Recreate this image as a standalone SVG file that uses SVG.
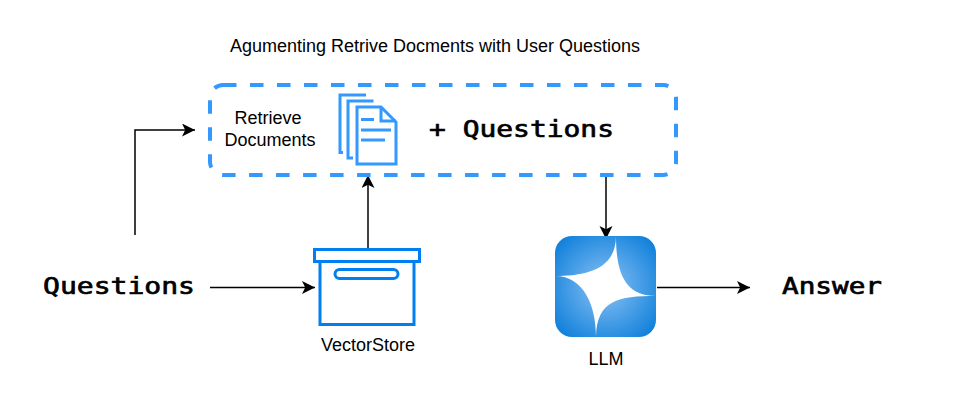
<svg xmlns="http://www.w3.org/2000/svg" width="961" height="411" viewBox="0 0 961 411">
<style>
.s{font-family:"Liberation Sans",Arial,sans-serif;font-size:18px;fill:#000}
.m{font-family:"DejaVu Sans Mono",monospace;font-size:23.500px;fill:#000;stroke:#000;stroke-width:.7}
.c{fill:none;stroke:#000;stroke-width:1.5}
.d{fill:none;stroke:#3399ff;stroke-width:3}
.b{fill:none;stroke:#0080f0;stroke-width:3}
</style>
<defs>
<marker id="a" markerUnits="userSpaceOnUse" markerWidth="14" markerHeight="14" refX="13" refY="6.5" orient="auto"><path d="M0 0L13 6.5L0 13L3.2 6.5Z" fill="#000"/></marker>
<radialGradient id="g" cx="50%" cy="50%" r="72%"><stop offset="0" stop-color="#8cc2f5"/><stop offset="1" stop-color="#0078d7"/></radialGradient>
</defs>
<rect width="961" height="411" fill="#fff"/>
<g id="connectors">
<path class="c" d="M135 235V130H195" marker-end="url(#a)"/>
<path class="c" d="M210 287.500H315" marker-end="url(#a)"/>
<path class="c" d="M368 249V175" marker-end="url(#a)"/>
<path class="c" d="M606 175V239" marker-end="url(#a)"/>
<path class="c" d="M657 287.500H750" marker-end="url(#a)"/>
</g>
<g id="title"><text class="s" x="435" y="52" text-anchor="middle">Agumenting Retrive Docments with User Questions</text></g>
<g id="augmented">
<rect x="210" y="85" width="466" height="90" rx="13" fill="none" stroke="#3399ff" stroke-width="4" stroke-dasharray="13.500 13.500"/>
<text class="s" x="268" y="124" text-anchor="middle">Retrieve</text>
<text class="s" x="270" y="146" text-anchor="middle">Documents</text>
<g id="doc-icon">
<path class="d" d="M366 95H340V152.500H343"/>
<path class="d" d="M373.500 101H348V158H353"/>
<path class="d" d="M357 107H381L396 122V164H357Z"/>
<path class="d" d="M381 107V121H396"/>
<path class="d" d="M361 119.500H374M361 130H391M361 140H385"/>
</g>
<text class="m" x="429" y="137" xml:space="preserve" textLength="185" lengthAdjust="spacingAndGlyphs">+ Questions</text>
</g>
<g id="questions"><text class="m" x="43" y="294" textLength="152" lengthAdjust="spacingAndGlyphs">Questions</text></g>
<g id="vectorstore">
<rect class="b" x="314.500" y="249.500" width="105" height="12"/>
<rect class="b" x="320" y="261.500" width="94" height="63"/>
<rect class="b" x="335" y="269.500" width="63" height="9" rx="4.500"/>
<text class="s" x="368" y="351" text-anchor="middle">VectorStore</text>
</g>
<g id="llm">
<rect x="555" y="236" width="101" height="101" rx="17" fill="url(#g)"/>
<path d="M616 236C616 275 626 296 656 296C618 296 597 300 596 337C596 306 584 276 555 276C585 276 616 270 616 236Z" fill="#fff"/>
<text class="s" x="606" y="365" text-anchor="middle">LLM</text>
</g>
<g id="answer"><text class="m" x="782" y="294" textLength="100" lengthAdjust="spacingAndGlyphs">Answer</text></g>
</svg>
